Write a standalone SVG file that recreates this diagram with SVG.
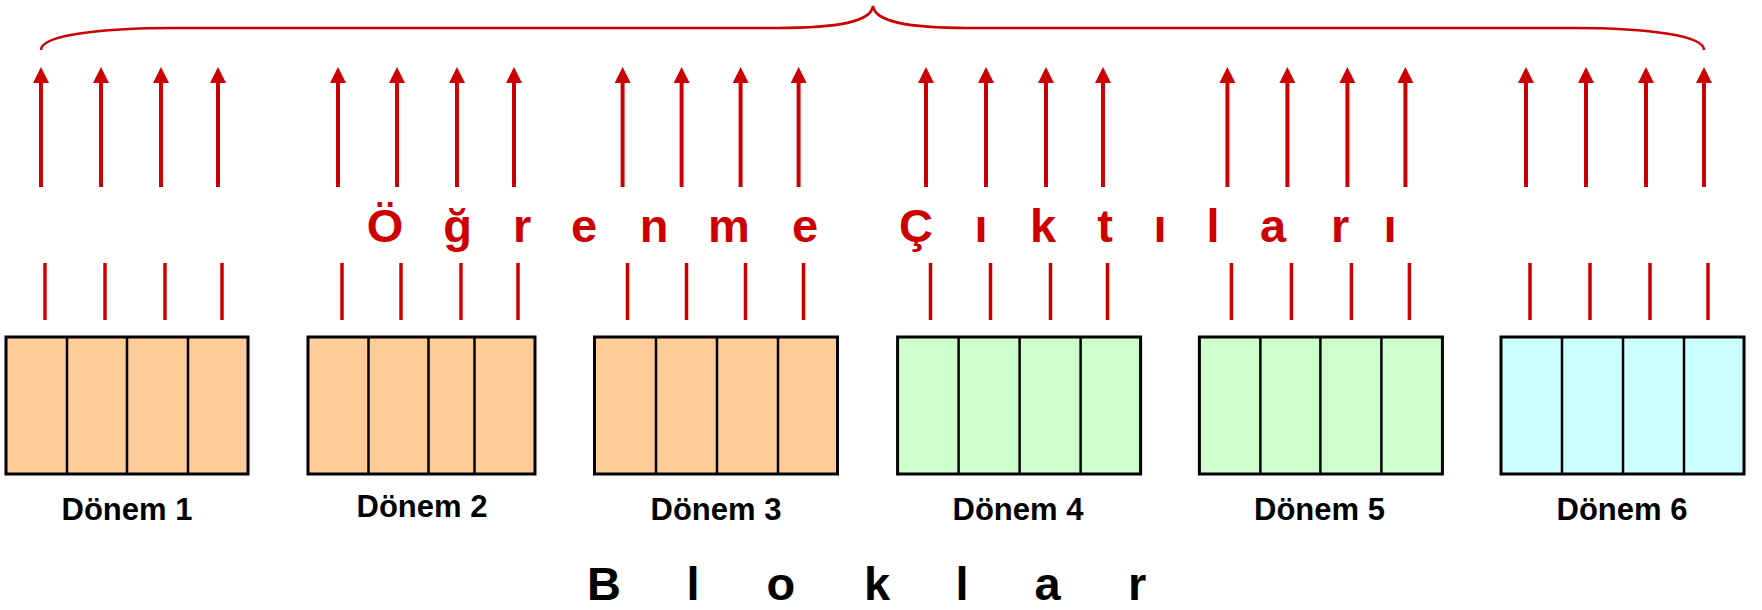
<svg xmlns="http://www.w3.org/2000/svg" width="1762" height="610" viewBox="0 0 1762 610">
<style>
.up{stroke:#CC0000;stroke-width:4;fill:none}
.tick{stroke:#CC0000;stroke-width:3.5;fill:none}
.brace{stroke:#CC0000;stroke-width:2.5;fill:none}
.box{stroke:#000;stroke-width:3}
.div{stroke:#000;stroke-width:2.5}
.o{fill:#FFCC99}.g{fill:#CCFFCC}.c{fill:#CCFFFF}
.lbl{font-family:"Liberation Sans",Arial,sans-serif;font-weight:bold;font-size:31px;fill:#000;text-anchor:middle}
.big{font-family:"Liberation Sans",Arial,sans-serif;font-weight:bold;font-size:47px}
</style>
<defs>
<marker id="ah" viewBox="0 0 16 16" refX="0" refY="8" markerWidth="16" markerHeight="16" markerUnits="userSpaceOnUse" orient="auto">
<path d="M0,0 L16,8 L0,16 z" fill="#CC0000"/>
</marker>
</defs>
<rect width="1762" height="610" fill="#fff"/>
<g id="connectors">
<path class="brace" d="M41,50 C41,36 95,28 175,28 L778,28 C838,28 871,22 873,6 C875,22 908,28 968,28 L1572,28 C1652,28 1704,36 1704,50"/>
<g marker-end="url(#ah)" class="up">
<line x1="41" y1="187" x2="41" y2="83"/><line x1="101" y1="187" x2="101" y2="83"/><line x1="161" y1="187" x2="161" y2="83"/><line x1="218" y1="187" x2="218" y2="83"/>
<line x1="338" y1="187" x2="338" y2="83"/><line x1="397" y1="187" x2="397" y2="83"/><line x1="457" y1="187" x2="457" y2="83"/><line x1="514" y1="187" x2="514" y2="83"/>
<line x1="622.6" y1="187" x2="622.6" y2="83"/><line x1="681.6" y1="187" x2="681.6" y2="83"/><line x1="740.6" y1="187" x2="740.6" y2="83"/><line x1="798.6" y1="187" x2="798.6" y2="83"/>
<line x1="926" y1="187" x2="926" y2="83"/><line x1="986" y1="187" x2="986" y2="83"/><line x1="1046" y1="187" x2="1046" y2="83"/><line x1="1103" y1="187" x2="1103" y2="83"/>
<line x1="1227.4" y1="187" x2="1227.4" y2="83"/><line x1="1287.4" y1="187" x2="1287.4" y2="83"/><line x1="1347.4" y1="187" x2="1347.4" y2="83"/><line x1="1405.4" y1="187" x2="1405.4" y2="83"/>
<line x1="1526" y1="187" x2="1526" y2="83"/><line x1="1586" y1="187" x2="1586" y2="83"/><line x1="1646" y1="187" x2="1646" y2="83"/><line x1="1704" y1="187" x2="1704" y2="83"/>
</g>
<g class="tick">
<line x1="45" y1="263" x2="45" y2="320"/><line x1="105" y1="263" x2="105" y2="320"/><line x1="165" y1="263" x2="165" y2="320"/><line x1="222" y1="263" x2="222" y2="320"/>
<line x1="342" y1="263" x2="342" y2="320"/><line x1="401" y1="263" x2="401" y2="320"/><line x1="461" y1="263" x2="461" y2="320"/><line x1="518" y1="263" x2="518" y2="320"/>
<line x1="627.5" y1="263" x2="627.5" y2="320"/><line x1="686.5" y1="263" x2="686.5" y2="320"/><line x1="745.5" y1="263" x2="745.5" y2="320"/><line x1="803.5" y1="263" x2="803.5" y2="320"/>
<line x1="930.5" y1="263" x2="930.5" y2="320"/><line x1="990.5" y1="263" x2="990.5" y2="320"/><line x1="1050.5" y1="263" x2="1050.5" y2="320"/><line x1="1107.5" y1="263" x2="1107.5" y2="320"/>
<line x1="1231.4" y1="263" x2="1231.4" y2="320"/><line x1="1291.4" y1="263" x2="1291.4" y2="320"/><line x1="1351.4" y1="263" x2="1351.4" y2="320"/><line x1="1409.4" y1="263" x2="1409.4" y2="320"/>
<line x1="1530" y1="263" x2="1530" y2="320"/><line x1="1590" y1="263" x2="1590" y2="320"/><line x1="1650" y1="263" x2="1650" y2="320"/><line x1="1708" y1="263" x2="1708" y2="320"/>
</g>
</g>
<g id="donem1">
<rect class="box o" x="6" y="337" width="242" height="137"/>
<line class="div" x1="67" y1="337" x2="67" y2="474"/><line class="div" x1="127" y1="337" x2="127" y2="474"/><line class="div" x1="188" y1="337" x2="188" y2="474"/>
<text class="lbl" x="127" y="520">Dönem 1</text>
</g>
<g id="donem2">
<rect class="box o" x="308" y="337" width="227" height="137"/>
<line class="div" x1="368.5" y1="337" x2="368.5" y2="474"/><line class="div" x1="428.5" y1="337" x2="428.5" y2="474"/><line class="div" x1="474.5" y1="337" x2="474.5" y2="474"/>
<text class="lbl" x="422" y="517">Dönem 2</text>
</g>
<g id="donem3">
<rect class="box o" x="594.5" y="337" width="243" height="137"/>
<line class="div" x1="656" y1="337" x2="656" y2="474"/><line class="div" x1="717" y1="337" x2="717" y2="474"/><line class="div" x1="778" y1="337" x2="778" y2="474"/>
<text class="lbl" x="716" y="520">Dönem 3</text>
</g>
<g id="donem4">
<rect class="box g" x="897.6" y="337" width="243" height="137"/>
<line class="div" x1="958.6" y1="337" x2="958.6" y2="474"/><line class="div" x1="1019.6" y1="337" x2="1019.6" y2="474"/><line class="div" x1="1080.6" y1="337" x2="1080.6" y2="474"/>
<text class="lbl" x="1018" y="520">Dönem 4</text>
</g>
<g id="donem5">
<rect class="box g" x="1199.4" y="337" width="243" height="137"/>
<line class="div" x1="1260.4" y1="337" x2="1260.4" y2="474"/><line class="div" x1="1320.4" y1="337" x2="1320.4" y2="474"/><line class="div" x1="1381.4" y1="337" x2="1381.4" y2="474"/>
<text class="lbl" x="1319.5" y="520">Dönem 5</text>
</g>
<g id="donem6">
<rect class="box c" x="1501" y="337" width="243" height="137"/>
<line class="div" x1="1562" y1="337" x2="1562" y2="474"/><line class="div" x1="1623" y1="337" x2="1623" y2="474"/><line class="div" x1="1684" y1="337" x2="1684" y2="474"/>
<text class="lbl" x="1622" y="520">Dönem 6</text>
</g>
<g id="ogrenme">
<text class="big" fill="#CC0000" y="242" x="366.7 443.2 512.9 571 639.7 708.1 792 850 899 974.5 1030 1097.2 1153.5 1206.5 1260 1330.9 1383.5">Öğrenme Çıktıları</text>
</g>
<g id="bloklar">
<text class="big" fill="#000" y="600" x="587 686.5 766.6 864 955.5 1034.5 1127.9">Bloklar</text>
</g>
</svg>
